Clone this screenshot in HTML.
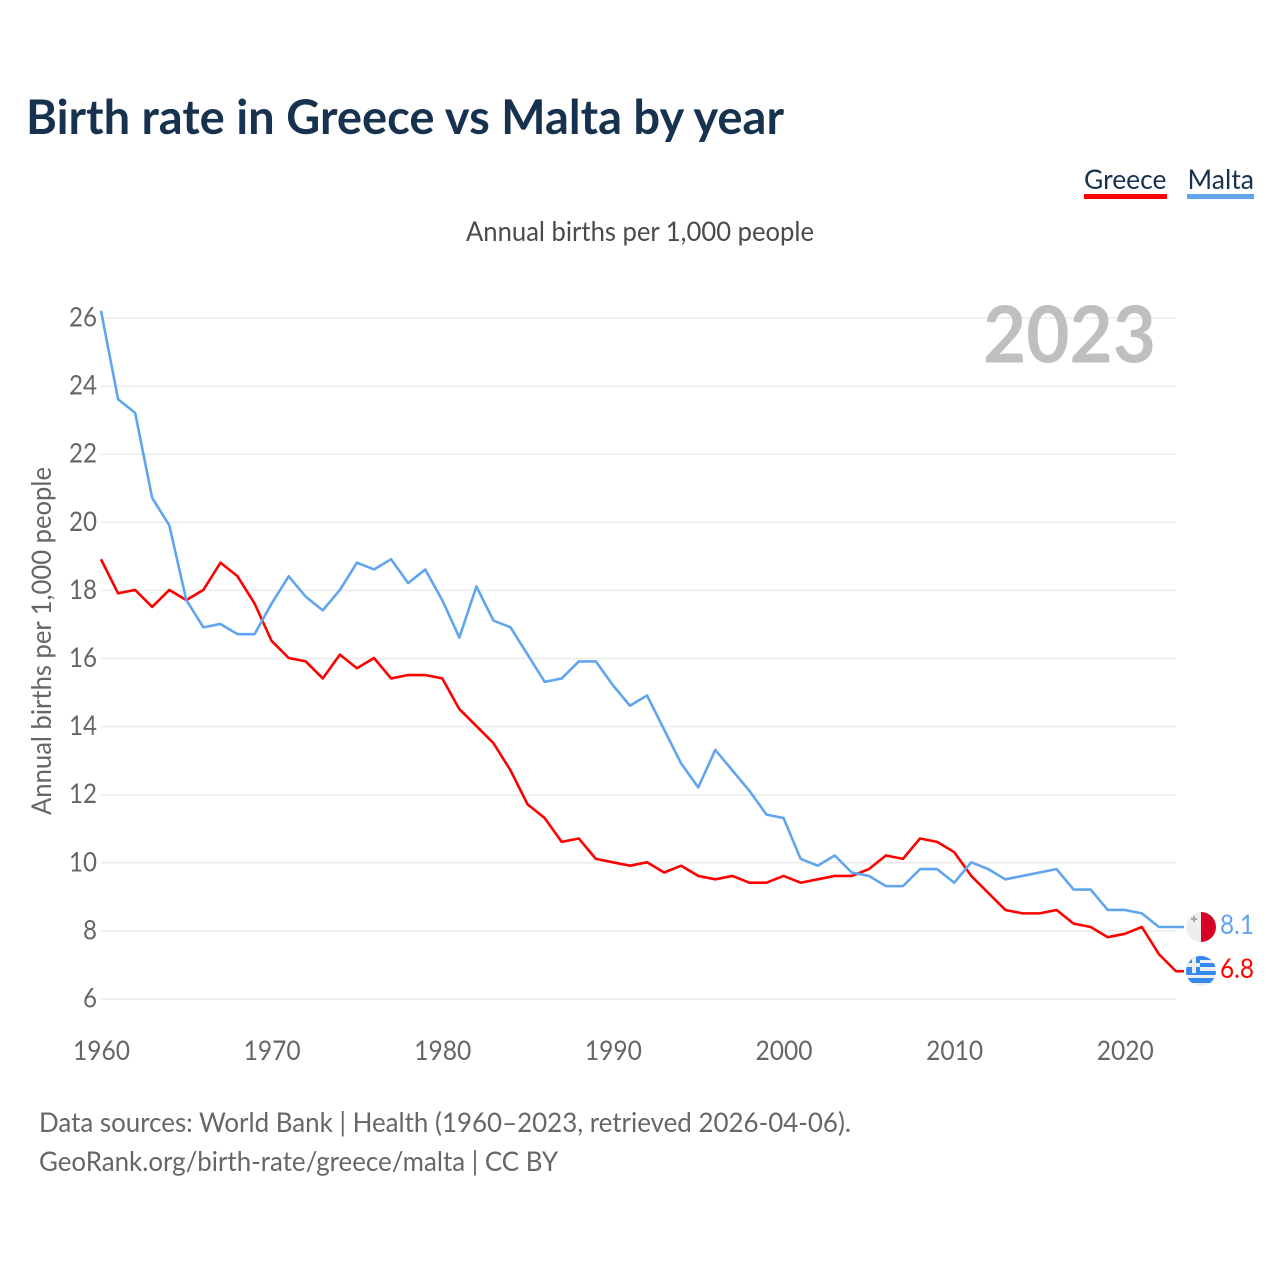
<!DOCTYPE html>
<html lang="en">
<head>
<meta charset="utf-8">
<title>Birth rate in Greece vs Malta by year</title>
<style>
html,body{margin:0;padding:0;background:#fff;width:1280px;height:1280px;overflow:hidden}
svg{display:block}
text{font-family:"Lato","Carlito","Liberation Sans",sans-serif}
</style>
</head>
<body>
<svg id="chart" width="1280" height="1280" viewBox="0 0 1280 1280" xmlns="http://www.w3.org/2000/svg">
  <defs>
    <clipPath id="flag-clip-mt"><circle cx="1201" cy="927" r="15"/></clipPath>
    <clipPath id="flag-clip-gr"><circle cx="1201" cy="971" r="15"/></clipPath>
  </defs>
  <text x="26" y="134" font-size="48" font-weight="700" fill="#17324f" textLength="758" lengthAdjust="spacingAndGlyphs">Birth rate in Greece vs Malta by year</text>
  <g>
    <text x="1084" y="189" font-size="27" fill="#17324f" textLength="82.500" lengthAdjust="spacingAndGlyphs">Greece</text>
    <rect x="1084" y="194" width="83" height="5" fill="#ff0000"/>
  </g>
  <g>
    <text x="1187.500" y="189" font-size="27" fill="#17324f" textLength="66.500" lengthAdjust="spacingAndGlyphs">Malta</text>
    <rect x="1187" y="194" width="67" height="5" fill="#60a5ee"/>
  </g>
  <text x="466" y="241" font-size="27" fill="#4a4a4a" textLength="348" lengthAdjust="spacingAndGlyphs">Annual births per 1,000 people</text>
  <g id="grid"></g>
  <g id="yticks"></g>
  <g id="xticks"></g>
  <text transform="translate(51,815) rotate(-90)" font-size="27" fill="#666666" textLength="348" lengthAdjust="spacingAndGlyphs">Annual births per 1,000 people</text>
  <text x="1156" y="362.500" text-anchor="end" font-size="79" font-weight="700" fill="#bfbfbf" textLength="173" lengthAdjust="spacingAndGlyphs">2023</text>
  <g id="lines"></g>
  <g id="flag-malta">
    <g clip-path="url(#flag-clip-mt)">
      <rect x="1186" y="912" width="15" height="30" fill="#eeeeee"/>
      <rect x="1201" y="912" width="15" height="30" fill="#d80027"/>
      <rect x="1193" y="916" width="2" height="6" fill="#a8a8a8"/>
      <rect x="1191" y="918" width="6" height="2" fill="#a8a8a8"/>
    </g>
  </g>
  <g id="flag-greece">
    <g clip-path="url(#flag-clip-gr)">
      <rect x="1186" y="956" width="30" height="30" fill="#eeeeee"/>
      <rect x="1186" y="956" width="30" height="4" fill="#338af3"/>
      <rect x="1186" y="963" width="30" height="4" fill="#338af3"/>
      <rect x="1186" y="971" width="30" height="4" fill="#338af3"/>
      <rect x="1186" y="978" width="30" height="5" fill="#338af3"/>
      <rect x="1186" y="956" width="14" height="17" fill="#338af3"/>
      <rect x="1192" y="956" width="4" height="17" fill="#eeeeee"/>
      <rect x="1186" y="963" width="14" height="4" fill="#eeeeee"/>
    </g>
  </g>
  <text id="end-label-malta" x="1220" y="934" font-size="27" fill="#60a5ee" textLength="34" lengthAdjust="spacingAndGlyphs"></text>
  <text id="end-label-greece" x="1220" y="978" font-size="27" fill="#ff0000" textLength="34" lengthAdjust="spacingAndGlyphs"></text>
  <text x="39" y="1132" font-size="27" fill="#666666" textLength="812" lengthAdjust="spacingAndGlyphs">Data sources: World Bank | Health (1960–2023, retrieved 2026-04-06).</text>
  <text x="39" y="1171" font-size="27" fill="#666666" textLength="519" lengthAdjust="spacingAndGlyphs">GeoRank.org/birth-rate/greece/malta | CC BY</text>
</svg>
<script>
const startYear = 1960;
const yTicks = [6, 8, 10, 12, 14, 16, 18, 20, 22, 24, 26];
const xTicks = [1960, 1970, 1980, 1990, 2000, 2010, 2020];
const greece = [18.9,17.9,18.0,17.5,18.0,17.7,18.0,18.8,18.4,17.6,16.5,16.0,15.9,15.4,16.1,15.7,16.0,15.4,15.5,15.5,15.4,14.5,14.0,13.5,12.7,11.7,11.3,10.6,10.7,10.1,10.0,9.9,10.0,9.7,9.9,9.6,9.5,9.6,9.4,9.4,9.6,9.4,9.5,9.6,9.6,9.8,10.2,10.1,10.7,10.6,10.3,9.6,9.1,8.6,8.5,8.5,8.6,8.2,8.1,7.8,7.9,8.1,7.3,6.8];
const malta = [26.2,23.6,23.2,20.7,19.9,17.7,16.9,17.0,16.7,16.7,17.6,18.4,17.8,17.4,18.0,18.8,18.6,18.9,18.2,18.6,17.7,16.6,18.1,17.1,16.9,16.1,15.3,15.4,15.9,15.9,15.2,14.6,14.9,13.9,12.9,12.2,13.3,12.7,12.1,11.4,11.3,10.1,9.9,10.2,9.7,9.6,9.3,9.3,9.8,9.8,9.4,10.0,9.8,9.5,9.6,9.7,9.8,9.2,9.2,8.6,8.6,8.5,8.1,8.1];

const NS = 'http://www.w3.org/2000/svg';
const xScale = year => 101 + (year - 1960) * (1176 - 101) / 63;
const yScale = value => 999 - (value - 6) * (999 - 318) / 20;

const grid = document.getElementById('grid');
const yTickGroup = document.getElementById('yticks');
yTicks.forEach(t => {
  const gridLine = document.createElementNS(NS, 'line');
  
  
  gridLine.setAttribute('x1', 101);
  gridLine.setAttribute('x2', 1176);
  gridLine.setAttribute('y1', yScale(t));
  gridLine.setAttribute('y2', yScale(t));
  gridLine.setAttribute('stroke', '#ebebeb');
  gridLine.setAttribute('stroke-width', 1.5);
  grid.appendChild(gridLine);

  const tickLabel = document.createElementNS(NS, 'text');
  
  
  tickLabel.setAttribute('x', 97);
  tickLabel.setAttribute('y', yScale(t) + 8.5);
  tickLabel.setAttribute('text-anchor', 'end');
  tickLabel.setAttribute('font-size', 27);
  tickLabel.setAttribute('fill', '#666666');
  tickLabel.setAttribute('textLength', String(t).length * 14);
  tickLabel.setAttribute('lengthAdjust', 'spacingAndGlyphs');
  tickLabel.textContent = t;
  yTickGroup.appendChild(tickLabel);
});

const xTickGroup = document.getElementById('xticks');
xTicks.forEach(t => {
  const tickLabel = document.createElementNS(NS, 'text');
  
  
  tickLabel.setAttribute('x', xScale(t) + 0.5);
  tickLabel.setAttribute('y', 1060);
  tickLabel.setAttribute('text-anchor', 'middle');
  tickLabel.setAttribute('font-size', 27);
  tickLabel.setAttribute('fill', '#666666');
  tickLabel.setAttribute('textLength', 57);
  tickLabel.setAttribute('lengthAdjust', 'spacingAndGlyphs');
  tickLabel.textContent = t;
  xTickGroup.appendChild(tickLabel);
});

const lines = document.getElementById('lines');
function drawSeries(values, color, name) {
  const pts = values.map((v, i) => xScale(startYear + i).toFixed(2) + ',' + (yScale(v) - 0.5).toFixed(2));
  pts.push('1184,' + (yScale(values[values.length - 1]) - 0.5).toFixed(2));
  const line = document.createElementNS(NS, 'polyline');
  
  
  line.setAttribute('points', pts.join(' '));
  line.setAttribute('fill', 'none');
  line.setAttribute('stroke', color);
  line.setAttribute('stroke-width', 2.6);
  line.setAttribute('stroke-linejoin', 'round');
  lines.appendChild(line);
}
drawSeries(greece, '#ff0000', 'greece-line');
drawSeries(malta, '#60a5ee', 'malta-line');

document.getElementById('end-label-malta').textContent = malta[malta.length - 1].toFixed(1);
document.getElementById('end-label-greece').textContent = greece[greece.length - 1].toFixed(1);
</script>
</body>
</html>
